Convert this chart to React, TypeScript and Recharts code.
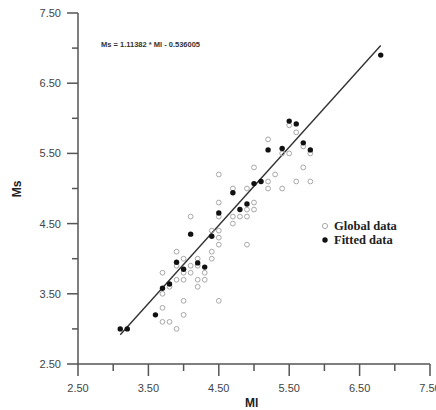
import React from "react";
import { Scatter, ScatterChart, XAxis, YAxis } from "recharts";

// magnitudes (Ml, Ms)
const globalData = [
  { ml: 3.7, ms: 3.8 }, { ml: 3.7, ms: 3.5 }, { ml: 3.7, ms: 3.3 }, { ml: 3.7, ms: 3.1 },
  { ml: 3.8, ms: 3.6 }, { ml: 3.8, ms: 3.1 },
  { ml: 3.9, ms: 4.1 }, { ml: 3.9, ms: 3.9 }, { ml: 3.9, ms: 3.7 }, { ml: 3.9, ms: 3.0 },
  { ml: 4.0, ms: 4.0 }, { ml: 4.0, ms: 3.8 }, { ml: 4.0, ms: 3.7 }, { ml: 4.0, ms: 3.4 }, { ml: 4.0, ms: 3.2 },
  { ml: 4.1, ms: 4.6 }, { ml: 4.1, ms: 3.9 }, { ml: 4.1, ms: 3.8 },
  { ml: 4.2, ms: 4.0 }, { ml: 4.2, ms: 3.9 }, { ml: 4.2, ms: 3.7 }, { ml: 4.2, ms: 3.6 },
  { ml: 4.3, ms: 3.8 }, { ml: 4.3, ms: 3.7 },
  { ml: 4.4, ms: 4.4 }, { ml: 4.4, ms: 4.1 }, { ml: 4.4, ms: 4.0 },
  { ml: 4.5, ms: 5.2 }, { ml: 4.5, ms: 4.8 }, { ml: 4.5, ms: 4.6 }, { ml: 4.5, ms: 4.4 },
  { ml: 4.5, ms: 4.3 }, { ml: 4.5, ms: 4.2 }, { ml: 4.5, ms: 3.4 },
  { ml: 4.7, ms: 5.0 }, { ml: 4.7, ms: 4.6 }, { ml: 4.7, ms: 4.5 },
  { ml: 4.8, ms: 4.6 },
  { ml: 4.9, ms: 5.0 }, { ml: 4.9, ms: 4.7 }, { ml: 4.9, ms: 4.6 }, { ml: 4.9, ms: 4.2 },
  { ml: 5.0, ms: 5.3 }, { ml: 5.0, ms: 4.8 }, { ml: 5.0, ms: 4.7 },
  { ml: 5.2, ms: 5.7 }, { ml: 5.2, ms: 5.1 }, { ml: 5.2, ms: 5.0 },
  { ml: 5.3, ms: 5.2 },
  { ml: 5.4, ms: 5.5 }, { ml: 5.4, ms: 5.0 },
  { ml: 5.5, ms: 5.9 }, { ml: 5.5, ms: 5.5 },
  { ml: 5.6, ms: 5.8 }, { ml: 5.6, ms: 5.1 },
  { ml: 5.7, ms: 5.6 }, { ml: 5.7, ms: 5.3 },
  { ml: 5.8, ms: 5.5 }, { ml: 5.8, ms: 5.1 },
];

const fittedData = [
  { ml: 3.1, ms: 3.0 }, { ml: 3.2, ms: 3.0 }, { ml: 3.6, ms: 3.2 }, { ml: 3.7, ms: 3.58 },
  { ml: 3.8, ms: 3.64 }, { ml: 3.9, ms: 3.95 }, { ml: 4.0, ms: 3.85 }, { ml: 4.1, ms: 4.35 },
  { ml: 4.2, ms: 3.94 }, { ml: 4.3, ms: 3.88 }, { ml: 4.4, ms: 4.32 }, { ml: 4.5, ms: 4.65 },
  { ml: 4.7, ms: 4.94 }, { ml: 4.8, ms: 4.7 }, { ml: 4.9, ms: 4.78 }, { ml: 5.0, ms: 5.07 },
  { ml: 5.1, ms: 5.1 }, { ml: 5.2, ms: 5.55 }, { ml: 5.4, ms: 5.57 }, { ml: 5.5, ms: 5.96 },
  { ml: 5.6, ms: 5.92 }, { ml: 5.7, ms: 5.65 }, { ml: 5.8, ms: 5.55 }, { ml: 6.8, ms: 6.9 },
];

// end points of the regression line Ms = 1.11382 * Ml - 0.536005
const fitLine = [
  { ml: 3.1, ms: 2.917 },
  { ml: 6.8, ms: 7.038 },
];

const axisTicks = [2.5, 3, 3.5, 4, 4.5, 5, 5.5, 6, 6.5, 7, 7.5];
const equation = "Ms = 1.11382 * Ml - 0.536005";

const sans = "'Liberation Sans', Arial, sans-serif";
const serif = "'Liberation Serif', 'Times New Roman', serif";
const axisColor = "#555";

const isMajor = (v: number) => Math.abs(((v - 2.5) % 1)) < 1e-6;

function XTick(props: any) {
  const { x, y, payload } = props;
  const major = isMajor(payload.value);
  return (
    <g>
      <line x1={x} y1={y} x2={x} y2={y + (major ? 12 : 7)} stroke={axisColor} strokeWidth={1.5} />
      {major && (
        <text x={x} y={y + 24} textAnchor="middle" dominantBaseline="central" fontSize={11} fill="#444" fontFamily={sans}>
          {payload.value.toFixed(2)}
        </text>
      )}
    </g>
  );
}

function YTick(props: any) {
  const { x, y, payload } = props;
  const major = isMajor(payload.value);
  return (
    <g>
      <line x1={x - (major ? 11 : 6)} y1={y} x2={x} y2={y} stroke={axisColor} strokeWidth={1.5} />
      {major && (
        <text x={x - 17} y={y} textAnchor="end" dominantBaseline="central" fontSize={11} fill="#444" fontFamily={sans}>
          {payload.value.toFixed(2)}
        </text>
      )}
    </g>
  );
}

const openDot = (p: any) => <circle cx={p.cx} cy={p.cy} r={2.4} fill="none" stroke="#a8a8a8" strokeWidth={1} />;
const solidDot = (p: any) => <circle cx={p.cx} cy={p.cy} r={2.7} fill="#111" />;

export default function App() {
  return (
    <div style={{ position: "absolute", left: 0, top: 0, width: 436, height: 410, background: "#fff" }}>
      <ScatterChart width={436} height={410} margin={{ top: 13, right: 6, bottom: 16, left: 8 }}>
        <XAxis
          type="number"
          dataKey="ml"
          domain={[2.5, 7.5]}
          ticks={axisTicks}
          interval={0}
          tickSize={0}
          tickMargin={0}
          tickLine={false}
          tick={<XTick />}
          axisLine={{ stroke: axisColor, strokeWidth: 1.5 }}
          height={30}
          allowDataOverflow
        />
        <YAxis
          type="number"
          dataKey="ms"
          domain={[2.5, 7.5]}
          ticks={axisTicks}
          interval={0}
          tickSize={0}
          tickMargin={0}
          tickLine={false}
          tick={<YTick />}
          axisLine={{ stroke: axisColor, strokeWidth: 1.5 }}
          width={70}
          allowDataOverflow
        />
        <Scatter data={fitLine} line={{ stroke: "#333", strokeWidth: 1.4 }} shape={() => <g />} isAnimationActive={false} />
        <Scatter data={globalData} shape={openDot} isAnimationActive={false} />
        <Scatter data={fittedData} shape={solidDot} isAnimationActive={false} />
      </ScatterChart>

      <div style={{ position: "absolute", left: 101, top: 40, fontFamily: sans, fontWeight: "bold", fontSize: 7.5, color: "#333", whiteSpace: "nowrap" }}>
        {equation}
      </div>

      <div style={{ position: "absolute", left: 245, top: 396, fontFamily: sans, fontWeight: "bold", fontSize: 12, color: "#222", lineHeight: "14px" }}>Ml</div>
      <div
        style={{
          position: "absolute",
          left: 17,
          top: 189,
          transform: "translate(-50%, -50%) rotate(-90deg)",
          fontFamily: sans,
          fontWeight: "bold",
          fontSize: 12,
          color: "#222",
        }}
      >
        Ms
      </div>

      <div style={{ position: "absolute", left: 320, top: 219, fontFamily: serif, fontWeight: "bold", fontSize: 12.5, color: "#222", lineHeight: "14px" }}>
        <div style={{ display: "flex", alignItems: "center" }}>
          <svg width={12} height={10}>
            <circle cx={5} cy={5} r={2.6} fill="none" stroke="#a8a8a8" strokeWidth={1} />
          </svg>
          <span style={{ marginLeft: 2 }}>Global data</span>
        </div>
        <div style={{ display: "flex", alignItems: "center" }}>
          <svg width={12} height={10}>
            <circle cx={5} cy={5} r={2.7} fill="#111" />
          </svg>
          <span style={{ marginLeft: 2 }}>Fitted data</span>
        </div>
      </div>
    </div>
  );
}
